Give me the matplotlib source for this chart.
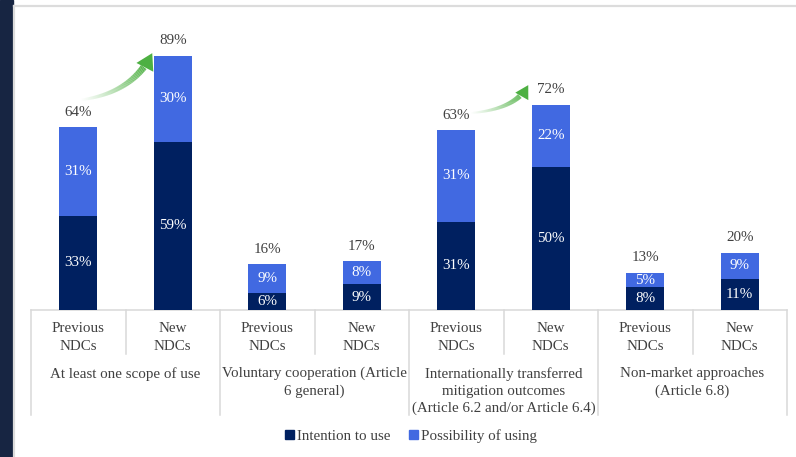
import matplotlib
matplotlib.use("Agg")
import matplotlib.pyplot as plt
import numpy as np
from matplotlib.patches import Patch, Polygon
from matplotlib.lines import Line2D

# ---- data ----
groups = ["At least one scope of use",
          "Voluntary cooperation (Article\n6 general)",
          "Internationally transferred\nmitigation outcomes\n(Article 6.2 and/or Article 6.4)",
          "Non-market approaches\n(Article 6.8)"]
sub_labels = ["Previous\nNDCs", "New\nNDCs"] * 4
intention = [33, 59, 6, 9, 31, 50, 8, 11]
possibility = [31, 30, 9, 8, 31, 22, 5, 9]
totals = [64, 89, 16, 17, 63, 72, 13, 20]

dark = "#002060"
light = "#4169E1"
txt = "#404040"
sep = "#d9d9d9"

plt.rcParams['font.family'] = ['Liberation Serif', 'DejaVu Serif']
fs = 10.8

W, H = 796, 457
fig = plt.figure(figsize=(W / 100, H / 100), dpi=100)

# frame decorations
fig.patches.append(plt.Rectangle((0, 0), 13 / W, 1, transform=fig.transFigure,
                                 color="#172542", zorder=0))
fig.lines.append(Line2D([14 / W, 14 / W], [0, 1 - 6 / H], transform=fig.transFigure,
                        color="#dcdcdc", lw=1.6))
fig.lines.append(Line2D([14 / W, 1], [1 - 6 / H, 1 - 6 / H], transform=fig.transFigure,
                        color="#dcdcdc", lw=1.6))

ax = fig.add_axes([31 / W, 147 / H, 756 / W, 285.4 / H])
ax.set_xlim(-0.5, 7.5)
ax.set_ylim(0, 100)
for s in ax.spines.values():
    s.set_visible(False)
ax.set_xticks([])
ax.set_yticks([])

x = np.arange(len(intention))
light_h = [t - i for t, i in zip(totals, intention)]
ax.bar(x, intention, width=0.4, color=dark, zorder=2)
ax.bar(x, light_h, bottom=intention, width=0.4, color=light, zorder=2)

for xi, i, p, lh, t in zip(x, intention, possibility, light_h, totals):
    ax.text(xi, i / 2, f"{i}%", ha="center", va="center", color="white", fontsize=fs, zorder=3)
    ax.text(xi, i + lh / 2, f"{p}%", ha="center", va="center", color="white", fontsize=fs, zorder=3)
    ax.text(xi, t + 5.3, f"{t}%", ha="center", va="center", color=txt, fontsize=fs, zorder=3)

# axis line and separators (pixel offsets below baseline)
ax.plot([-0.5, 7.5], [0, 0], color=sep, lw=1.1, clip_on=False, zorder=1)
px = 1 / 2.854  # data units per pixel in y
for k in range(9):
    xb = -0.5 + k
    depth = 105 if k % 2 == 0 else 44
    ax.plot([xb, xb], [0, -depth * px], color=sep, lw=1.1, clip_on=False, zorder=1)

for xi, lab in zip(x, sub_labels):
    ax.text(xi, -27.5 * px, lab, ha="center", va="center", color=txt, fontsize=fs,
            linespacing=1.4, clip_on=False)

for g, lab in enumerate(groups):
    ax.text(2 * g + 0.5, -57 * px, lab, ha="center", va="top", color=txt, fontsize=fs,
            linespacing=1.4, clip_on=False)


# gradient curved arrows
def grad_arrow(p0, p1, p2, body_w, hl, hw, color=(0.30, 0.69, 0.26)):
    t = np.linspace(0, 1, 80)
    P0, P1, P2 = map(np.array, (p0, p1, p2))
    pts = np.array([(1 - tt) ** 2 * P0 + 2 * (1 - tt) * tt * P1 + tt ** 2 * P2 for tt in t])
    disp = ax.transData.transform(pts)
    n = len(disp)
    tip = disp[-1]
    d = disp[-1] - disp[-6]
    d = d / np.linalg.norm(d)
    nrm = np.array([-d[1], d[0]])
    base = tip - d * hl
    stop = n - 1
    for j in range(n - 1):
        if np.dot(disp[j] - base, d) > -1:
            stop = j
            break
    inv = ax.transData.inverted()
    for j in range(stop):
        f = j / stop
        a = f ** 1.1
        lw = body_w * (0.35 + 0.65 * f)
        seg = inv.transform(disp[j:j + 2])
        ax.plot(seg[:, 0], seg[:, 1], color=color, alpha=a, lw=lw,
                solid_capstyle="butt", clip_on=False, zorder=4)
    head = np.array([tip, base + nrm * hw, base - nrm * hw])
    ax.add_patch(Polygon(inv.transform(head), closed=True, color=color, lw=0,
                         clip_on=False, zorder=4))


grad_arrow((0.021, 73.6), (0.58, 76.0), (0.783, 90.0), body_w=5.0, hl=16, hw=9.5)
grad_arrow((4.148, 69.0), (4.63, 70.3), (4.762, 78.8), body_w=3.8, hl=13, hw=7.5)

handles = [Patch(color=dark, label="Intention to use"),
           Patch(color=light, label="Possibility of using")]
leg = fig.legend(handles=handles, loc="center", bbox_to_anchor=(411 / W, 1 - 436 / H),
                 ncol=2, frameon=False, fontsize=fs, handlelength=0.6, handleheight=0.6,
                 handletextpad=0.2, columnspacing=1.2)
for t in leg.get_texts():
    t.set_color(txt)

fig.savefig("out.png", dpi=100)
